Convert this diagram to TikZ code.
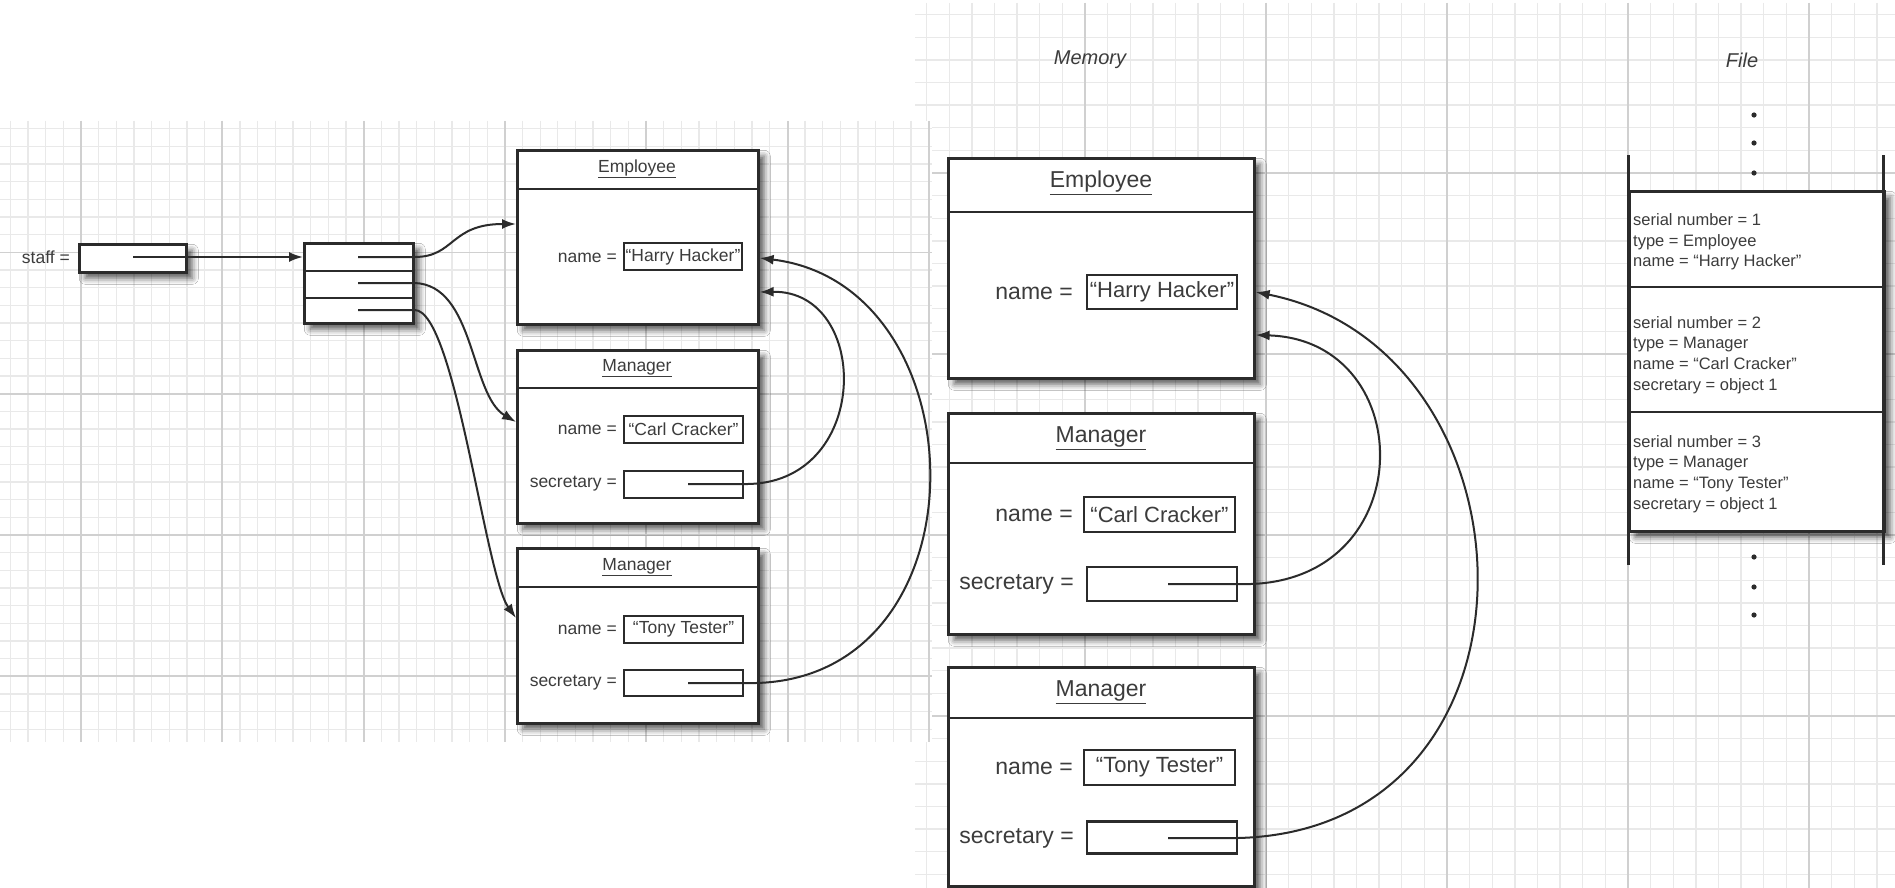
\documentclass[tikz,border=0pt]{standalone}
\usepackage{fontspec}
\setmainfont{Liberation Sans}
\usetikzlibrary{arrows.meta,shadows.blur}
\definecolor{ink}{HTML}{2B2B2B}
\definecolor{txt}{HTML}{3C3C3C}
\definecolor{gminor}{HTML}{E9E9E9}
\definecolor{gmajor}{HTML}{D0D0D0}
\newcommand\lfnt{\fontsize{17.5}{21}\selectfont}
\newcommand\rfnt{\fontsize{23}{27}\selectfont}
\newcommand\rvfnt{\fontsize{22}{26}\selectfont}
\newcommand\ffnt{\fontsize{16.5}{20.6}\selectfont}
\newcommand\hfnt{\itshape\fontsize{20}{24}\selectfont}
\begin{document}
\begin{tikzpicture}[x=1pt,y=-1pt,
  objbox/.style={draw=ink,line width=2.6pt,fill=white,rectangle,inner sep=0pt,anchor=north west,
     blur shadow={shadow xshift=6pt,shadow yshift=-6pt,shadow blur radius=6pt,shadow opacity=65}},
  valbox/.style={draw=ink,line width=2.2pt,fill=white,rectangle,inner sep=0pt,text=txt},
  lbl/.style={text=txt,inner sep=0pt,anchor=east},
  ttl/.style={text=txt,inner sep=0pt},
  divline/.style={draw=ink,line width=2.4pt},
  conn/.style={draw=ink,line width=2pt,-{Latex[length=14pt,width=10pt]}},
  gridminor/.style={draw=gminor,line width=1.3pt},
  gridmajor/.style={draw=gmajor,line width=1.8pt},
  rec/.style={text=txt,inner sep=0pt,anchor=west,align=left,font=\ffnt}
]
\useasboundingbox (0,0) rectangle (1895,888);
\fill[white] (0,0) rectangle (1895,888);

% ---------- right grid ----------
\begin{scope}
\clip (915,3) rectangle (1895,888);
\foreach \k in {-15,...,27} {\pgfmathsetmacro\xx{1266+\k*22.625}\draw[gridminor] (\xx,3) -- (\xx,888);}
\foreach \k in {-7,...,31} {\pgfmathsetmacro\yy{173+\k*22.625}\draw[gridminor] (915,\yy) -- (1895,\yy);}
\foreach \xx in {1085,1266,1447,1628,1809} {\draw[gridmajor] (\xx,3) -- (\xx,888);}
\foreach \yy in {173,354,535,716} {\draw[gridmajor] (915,\yy) -- (1895,\yy);}
\end{scope}

% ---------- left grid ----------
\fill[white] (0,121) rectangle (932,742);
\begin{scope}
\clip (0,121) rectangle (932,742);
\foreach \k in {-4,...,48} {\pgfmathsetmacro\xx{81+\k*17.66}\draw[gridminor] (\xx,121) -- (\xx,742);}
\foreach \k in {-23,...,12} {\pgfmathsetmacro\yy{535+\k*17.66}\draw[gridminor] (0,\yy) -- (932,\yy);}
\foreach \xx in {81,222.3,363.6,505,646.3,787.6,929} {\draw[gridmajor] (\xx,121) -- (\xx,742);}
\foreach \yy in {252.4,393.7,535,676.3} {\draw[gridmajor] (0,\yy) -- (932,\yy);}
\end{scope}

% ---------- left panel ----------
\node[lbl,font=\lfnt] (staffl) at (70,257) {staff =};
\node[objbox,minimum width=107pt,minimum height=28pt] (lstaff) at (78,243) {};
\node[objbox,minimum width=109pt,minimum height=80pt] (arr) at (303,242) {};
\draw[divline] (303,271) -- (412,271);
\draw[divline] (303,298) -- (412,298);

% Employee (left)
\node[objbox,minimum width=241pt,minimum height=174pt] (lemp) at (516,149) {};
\draw[divline] (516,189) -- (757,189);
\node[ttl,font=\lfnt] (lempt) at (637,169) {\underline{Employee}};
\node[lbl,font=\lfnt] (lempn) at (617,258) {name =};
\node[valbox,font=\lfnt,minimum width=118pt,minimum height=27pt] (lhh) at (683,256.5) {“Harry Hacker”};

% Manager 1 (left)
\node[objbox,minimum width=241pt,minimum height=173pt] (lm1) at (516,349) {};
\draw[divline] (516,388) -- (757,388);
\node[ttl,font=\lfnt] (lm1t) at (637,368) {\underline{Manager}};
\node[lbl,font=\lfnt] (lm1n) at (617,430) {name =};
\node[valbox,font=\lfnt,minimum width=119pt,minimum height=27pt] (lcc) at (683.5,429.5) {“Carl Cracker”};
\node[lbl,font=\lfnt] (lm1s) at (617,484) {secretary =};
\node[valbox,minimum width=119pt,minimum height=27pt] (lsec1) at (683.5,484.5) {};

% Manager 2 (left)
\node[objbox,minimum width=241pt,minimum height=175pt] (lm2) at (516,547) {};
\draw[divline] (516,587) -- (757,587);
\node[ttl,font=\lfnt] (lm2t) at (637,567) {\underline{Manager}};
\node[lbl,font=\lfnt] (lm2n) at (617,630) {name =};
\node[valbox,font=\lfnt,minimum width=119pt,minimum height=27pt] (ltt) at (683.5,629.5) {“Tony Tester”};
\node[lbl,font=\lfnt] (lm2s) at (617,683) {secretary =};
\node[valbox,minimum width=119pt,minimum height=26pt] (lsec2) at (683.5,683) {};

% left connectors
\coordinate (s0) at (133,257);
\coordinate (a1) at (358,257);
\coordinate (a2) at (358,283);
\coordinate (a3) at (358,310);
\coordinate (ls1) at (688,484);
\coordinate (ls2) at (688,683);
\draw[conn] (s0) -- (arr.west |- s0);
\draw[conn] (a1) -- (a1 -| arr.east) .. controls (455,257) and (450,224) .. (lemp.west |- 0,224);
\draw[conn] (a2) -- (a2 -| arr.east) .. controls (475,285) and (470,395) .. (lm1.west |- 0,422);
\draw[conn] (a3) -- (a3 -| arr.east) .. controls (455,310) and (485,575) .. (lm2.west |- 0,618);
\draw[conn] (ls1) -- (lsec1.east |- ls1) .. controls (872,486) and (872,290) .. (lemp.east |- 0,292);
\draw[conn] (ls2) -- (lsec2.east |- ls2) .. controls (990,690) and (985,285) .. (lemp.east |- 0,258);

% ---------- right panel: memory ----------
\node[ttl,font=\hfnt] (mem) at (1090,60) {Memory};

\node[objbox,minimum width=306pt,minimum height=220pt] (remp) at (947,157) {};
\draw[divline] (947,212) -- (1253,212);
\node[ttl,font=\rfnt] (rempt) at (1101,183) {\underline{Employee}};
\node[lbl,font=\rfnt] (rempn) at (1073,293) {name =};
\node[valbox,font=\rvfnt,minimum width=150pt,minimum height=34pt] (rhh) at (1162,292) {“Harry Hacker”};

\node[objbox,minimum width=306pt,minimum height=221pt] (rm1) at (947,412) {};
\draw[divline] (947,463) -- (1253,463);
\node[ttl,font=\rfnt] (rm1t) at (1101,438) {\underline{Manager}};
\node[lbl,font=\rfnt] (rm1n) at (1073,515) {name =};
\node[valbox,font=\rvfnt,minimum width=151pt,minimum height=35pt] (rcc) at (1159.5,514.5) {“Carl Cracker”};
\node[lbl,font=\rfnt] (rm1s) at (1074,584) {secretary =};
\node[valbox,minimum width=150pt,minimum height=34pt] (rsec1) at (1162,584) {};

\node[objbox,minimum width=306pt,minimum height=219pt] (rm2) at (947,666) {};
\draw[divline] (947,718) -- (1253,718);
\node[ttl,font=\rfnt] (rm2t) at (1101,692) {\underline{Manager}};
\node[lbl,font=\rfnt] (rm2n) at (1073,768) {name =};
\node[valbox,font=\rvfnt,minimum width=151pt,minimum height=35pt] (rtt) at (1159.5,767.5) {“Tony Tester”};
\node[lbl,font=\rfnt] (rm2s) at (1074,838) {secretary =};
\node[valbox,minimum width=150pt,minimum height=32pt] (rsec2) at (1162,837.5) {};

\coordinate (rs1) at (1168,584);
\coordinate (rs2) at (1168,838);
\draw[conn] (rs1) -- (rsec1.east |- rs1) .. controls (1422,590) and (1422,340) .. (remp.east |- 0,335);
\draw[conn] (rs2) -- (rsec2.east |- rs2) .. controls (1560,830) and (1545,350) .. (remp.east |- 0,292);

% ---------- right panel: file ----------
\node[ttl,font=\hfnt] (filet) at (1742,60) {File};
\node[objbox,minimum width=255pt,minimum height=340pt] (file) at (1628,190) {};
\draw[divline] (1628,287) -- (1883,287);
\draw[divline] (1628,412) -- (1883,412);
\draw[draw=ink,line width=3pt] (1628,155) -- (1628,565);
\draw[draw=ink,line width=3pt] (1883,155) -- (1883,565);
\foreach \yy in {115,143,173,557,587,615} {\fill[ink] (1754,\yy) circle (2.6pt);}
\node[rec] (r1) at (1633,242) {serial number = 1\\type = Employee\\name = “Harry Hacker”};
\node[rec] (r2) at (1633,355) {serial number = 2\\type = Manager\\name = “Carl Cracker”\\secretary = object 1};
\node[rec] (r3) at (1633,474) {serial number = 3\\type = Manager\\name = “Tony Tester”\\secretary = object 1};
\end{tikzpicture}
\end{document}
